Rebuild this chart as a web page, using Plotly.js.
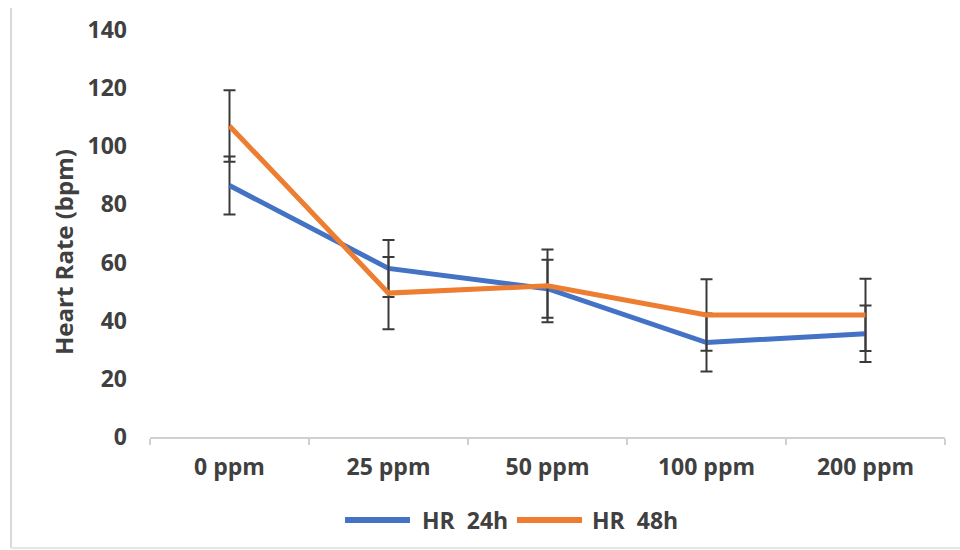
<!DOCTYPE html>
<html>
<head>
<meta charset="utf-8">
<script src="https://cdn.plot.ly/plotly-3.0.1.min.js"></script>
<style>html,body{margin:0;padding:0;background:#fff;}#chart{width:960px;height:550px;}</style>
</head>
<body>
<div id="chart"></div>
<script>
const categories = ["0 ppm", "25 ppm", "50 ppm", "100 ppm", "200 ppm"];
const hr24 = [86.5, 58, 51, 32.5, 35.5];
const hr24Err = [10, 9.8, 10, 10, 9.7];
const hr48 = [107, 49.5, 52, 42, 42];
const hr48Err = [12.3, 12.4, 12.5, 12.3, 12.4];
const seriesNames = ["HR\u00a0 24h", "HR\u00a0 48h"];
const seriesColors = ["#4472C4", "#ED7D31"];
const yTicks = [0, 20, 40, 60, 80, 100, 120, 140];
const yTitle = "Heart Rate (bpm)";

const txt = "#404040";
const fontFam = "'Open Sans', 'Noto Sans', sans-serif";
const fsz = 23;

const errStyle = {type: "data", visible: true, color: "#3a3a3a", thickness: 2, width: 6};

const traces = [
  {x: categories, y: hr24, name: seriesNames[0], type: "scatter", mode: "lines",
   line: {color: seriesColors[0], width: 5},
   error_y: Object.assign({array: hr24Err}, errStyle)},
  {x: categories, y: hr48, name: seriesNames[1], type: "scatter", mode: "lines",
   line: {color: seriesColors[1], width: 5},
   error_y: Object.assign({array: hr48Err}, errStyle)}
];

// custom legend (long swatches as in the reference)
const legY = -0.2039;
const legendSpec = [
  {x0: 0.2453, x1: 0.3270, tx: 0.3396},
  {x0: 0.4616, x1: 0.5434, tx: 0.5535}
];
const legendShapes = legendSpec.map((s, i) => ({
  type: "line", xref: "paper", yref: "paper", x0: s.x0, x1: s.x1, y0: legY, y1: legY,
  line: {color: seriesColors[i], width: 6}
}));
const legendAnn = legendSpec.map((s, i) => ({
  xref: "paper", yref: "paper", x: s.tx, y: legY, xanchor: "left", yanchor: "middle",
  text: seriesNames[i], showarrow: false,
  font: {family: fontFam, size: fsz, color: txt, weight: "bold"}
}));
const titleAnn = {
  xref: "paper", yref: "paper", x: -0.1094, y: 0.4545, xanchor: "center", yanchor: "middle",
  textangle: -90, text: yTitle, showarrow: false,
  font: {family: fontFam, size: 24, color: txt, weight: "bold"}
};

const layout = {
  width: 960, height: 550,
  margin: {l: 150, r: 15, t: 30, b: 113},
  paper_bgcolor: "#fff", plot_bgcolor: "#fff",
  font: {family: fontFam, color: txt, size: fsz},
  showlegend: false,
  xaxis: {type: "category", range: [-0.5, 4.5], showgrid: false, zeroline: false,
          showline: true, linecolor: "#d0d0d0", linewidth: 2,
          ticks: "outside", tickson: "boundaries", ticklen: 6, tickcolor: "#d0d0d0", tickwidth: 2,
          tickfont: {family: fontFam, size: fsz, color: txt, weight: "bold"},
          ticklabelstandoff: 8},
  yaxis: {range: [0, 140], tickvals: yTicks, showgrid: false, zeroline: false, showline: false,
          ticks: "", ticklabelstandoff: 22,
          tickfont: {family: fontFam, size: fsz, color: txt, weight: "bold"}},
  annotations: legendAnn.concat([titleAnn]),
  shapes: [
    {type: "line", xref: "paper", yref: "paper", x0: -0.1748, x1: -0.1748, y0: -0.2727, y1: 1.054,
     line: {color: "#d9d9d9", width: 2}},
    {type: "line", xref: "paper", yref: "paper", x0: -0.1748, x1: 1.02, y0: -0.2727, y1: -0.2727,
     line: {color: "#e6e6e6", width: 2}}
  ].concat(legendShapes)
};

Plotly.newPlot("chart", traces, layout, {displayModeBar: false, staticPlot: true});
</script>
</body>
</html>
